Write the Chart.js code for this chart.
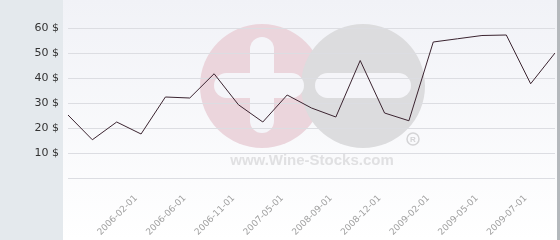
<!DOCTYPE html>
<html>
<head>
<meta charset="utf-8">
<script src="https://cdn.jsdelivr.net/npm/chart.js@4"></script>
<style>
  html, body { margin: 0; padding: 0; background: #fff; }
  #wrap { width: 560px; height: 240px; position: relative; }
</style>
</head>
<body>
<div id="wrap"><canvas id="priceChart"></canvas></div>
<script>
// dates shown on the axis only every second point, the others are not readable
const dates = [
  '', '', '', '2006-02-01', '', '2006-06-01', '', '2006-11-01', '', '2007-05-01',
  '', '2008-09-01', '', '2008-12-01', '', '2009-02-01', '', '2009-05-01', '', '2009-07-01', ''
];
const prices = [
  25.2, 15.3, 22.4, 17.6, 32.4, 32.0, 41.7, 29.3, 22.4, 33.2,
  28.0, 24.4, 47.0, 26.0, 22.9, 54.4, 55.7, 57.0, 57.2, 37.7, 50.0
];
const yTicks = [10, 20, 30, 40, 50, 60];

// panels + the faded logo behind the grid
const background = {
  id: 'background',
  beforeDraw(chart) {
    const { ctx, width, height } = chart;
    ctx.save();
    const grad = ctx.createLinearGradient(0, 0, 0, height);
    grad.addColorStop(0, '#f1f2f7');
    grad.addColorStop(1, '#ffffff');
    ctx.fillStyle = grad;
    ctx.fillRect(0, 0, width, height);
    ctx.fillStyle = '#e4e9ed';
    ctx.fillRect(0, 0, 63, height);
    ctx.fillStyle = '#b4b8bc';
    ctx.fillRect(557, 0, 3, height);

    // pink circle with plus
    ctx.fillStyle = '#ebd5dc';
    ctx.beginPath();
    ctx.arc(262, 86, 62, 0, Math.PI * 2);
    ctx.fill();
    // grey circle with minus
    ctx.fillStyle = '#dcdcde';
    ctx.beginPath();
    ctx.arc(363, 86, 62, 0, Math.PI * 2);
    ctx.fill();

    ctx.fillStyle = '#f5f5f9';
    const bar = (x, y, w, h) => {
      const r = Math.min(w, h) / 2;
      ctx.beginPath();
      ctx.roundRect(x, y, w, h, r);
      ctx.fill();
    };
    bar(250, 37, 24, 96);
    bar(214, 73, 90, 25);
    bar(315, 73, 96, 25);

    ctx.strokeStyle = '#d4d4d6';
    ctx.lineWidth = 1.5;
    ctx.beginPath();
    ctx.arc(413, 139, 6, 0, Math.PI * 2);
    ctx.stroke();
    ctx.fillStyle = '#d4d4d6';
    ctx.font = 'bold 8px "Liberation Sans"';
    ctx.textAlign = 'center';
    ctx.textBaseline = 'middle';
    ctx.fillText('R', 413, 139.5);

    ctx.fillStyle = '#e0e0e2';
    ctx.font = 'bold 15px "Liberation Sans"';
    ctx.fillText('www.Wine-Stocks.com', 312, 161);
    ctx.restore();
  }
};

const ctx = document.querySelector('#priceChart').getContext('2d');
new Chart(ctx, {
  type: 'line',
  data: {
    labels: dates,
    datasets: [{
      data: prices,
      borderColor: '#3b2430',
      borderWidth: 1,
      pointRadius: 0,
      tension: 0,
      fill: false
    }]
  },
  options: {
    responsive: true,
    maintainAspectRatio: false,
    animation: false,
    layout: { padding: { top: 3, right: 5, left: 0, bottom: 0 } },
    plugins: {
      legend: { display: false },
      tooltip: { enabled: false }
    },
    scales: {
      x: {
        offset: false,
        grid: { display: false, drawTicks: false },
        border: { display: false },
        ticks: {
          autoSkip: false,
          minRotation: 45,
          maxRotation: 45,
          padding: 15,
          labelOffset: -5,
          color: '#a0a0a0',
          font: { family: 'DejaVu Sans', size: 9 }
        },
        afterFit(scale) {
          scale.height = 62;
          scale.paddingLeft = 0;
          scale.paddingRight = 0;
        }
      },
      y: {
        min: 0,
        max: 70,
        afterBuildTicks(scale) {
          scale.ticks = [0, ...yTicks, 70].map(v => ({ value: v }));
        },
        grid: {
          drawTicks: false,
          color: c => (c.tick && c.tick.value === 70 ? 'rgba(0,0,0,0)' : '#dcdde2'),
          lineWidth: 1
        },
        border: { display: false },
        ticks: {
          padding: 9,
          color: '#333333',
          font: { family: 'DejaVu Sans', size: 11 },
          callback: v => (yTicks.includes(v) ? v + ' $' : '')
        },
        afterFit(scale) {
          scale.width = 68;
          scale.paddingTop = 0;
          scale.paddingBottom = 0;
        }
      }
    }
  },
  plugins: [background]
});
</script>
</body>
</html>
